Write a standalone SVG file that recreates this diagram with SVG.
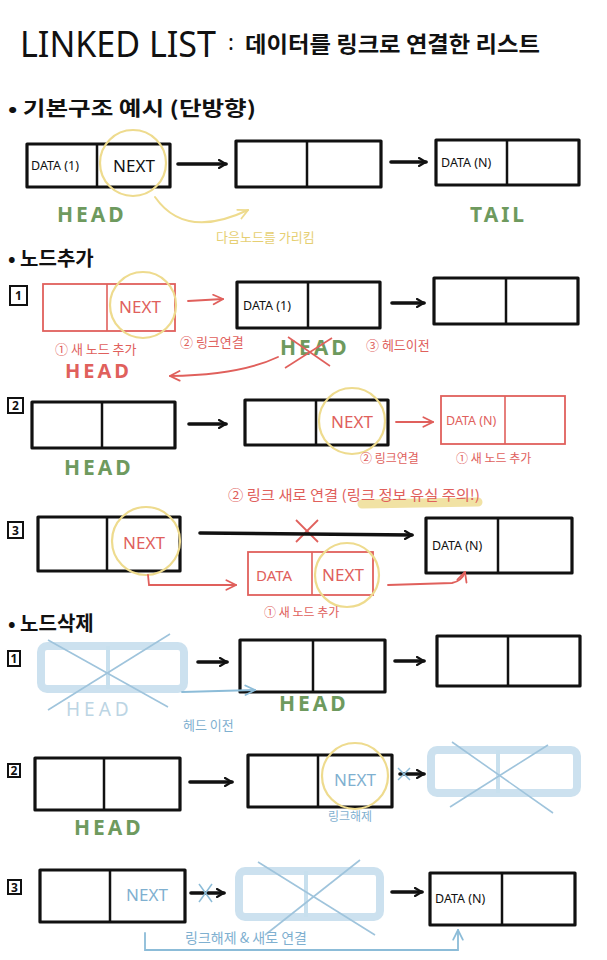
<svg xmlns="http://www.w3.org/2000/svg" width="607" height="960" viewBox="0 0 607 960">
<defs>
<style>
.t{font-family:"Noto Sans","Noto Sans CJK KR",sans-serif}
.k{font-family:"Noto Sans CJK KR","Noto Sans",sans-serif}
.box{fill:#fff;stroke:#111;stroke-width:3.2;stroke-linejoin:round}
.div{stroke:#111;stroke-width:2.5}
.rbox{fill:#fff;stroke:#e0605c;stroke-width:1.8}
.rdiv{stroke:#e0605c;stroke-width:1.6}
.fbox{fill:#fff;stroke:#bcd8ea;stroke-width:8;opacity:.75}
.fdiv{stroke:#c8e0ee;stroke-width:4}
.fx{stroke:#9fc4dc;stroke-width:1.6}
.circ{fill:none;stroke:#eedb8e;stroke-width:2.2}
.arr{fill:none;stroke:#111;stroke-width:3.6;stroke-linecap:round;marker-end:url(#mb)}
.rarr{fill:none;stroke:#e0605c;stroke-width:1.8;stroke-linecap:round;marker-end:url(#mr)}
.barr{fill:none;stroke:#8cbcd8;stroke-width:1.8;stroke-linecap:round;marker-end:url(#mbl)}
.yarr{fill:none;stroke:#eedb8e;stroke-width:2;stroke-linecap:round;marker-end:url(#my)}
.green{fill:#6e9a5e;font-weight:700;font-size:21px;letter-spacing:3px}
.red{fill:#e0605c}
.blue{fill:#7fb0d0}
.data{fill:#111;font-size:12.5px}
.next{font-size:17px}
.lbl{fill:#fff;stroke:#111;stroke-width:2}
.num{font-size:12px;font-weight:700;fill:#111;text-anchor:middle}
.head{font-size:20px;font-weight:700}
</style>
<marker id="mb" viewBox="0 0 10 10" refX="8" refY="5" markerWidth="10" markerHeight="10" markerUnits="userSpaceOnUse" orient="auto"><path d="M1,1 L8,5 L1,9" fill="none" stroke="#111" stroke-width="2.2" stroke-linecap="round"/></marker>
<marker id="mr" viewBox="0 0 10 10" refX="9" refY="5" markerWidth="12" markerHeight="12" markerUnits="userSpaceOnUse" orient="auto"><path d="M1,1 L9,5 L1,9" fill="none" stroke="#e0605c" stroke-width="1.5" stroke-linecap="round"/></marker>
<marker id="mbl" viewBox="0 0 10 10" refX="9" refY="5" markerWidth="12" markerHeight="12" markerUnits="userSpaceOnUse" orient="auto"><path d="M1,1 L9,5 L1,9" fill="none" stroke="#8cbcd8" stroke-width="1.5" stroke-linecap="round"/></marker>
<marker id="my" viewBox="0 0 10 10" refX="9" refY="5" markerWidth="12" markerHeight="12" markerUnits="userSpaceOnUse" orient="auto"><path d="M1,1 L9,5 L1,9" fill="none" stroke="#eedb8e" stroke-width="1.5" stroke-linecap="round"/></marker>
</defs>
<rect width="607" height="960" fill="#fff"/>

<!-- Title -->
<g id="title">
<text class="t" x="20" y="57" font-size="36" textLength="196" lengthAdjust="spacingAndGlyphs" fill="#111">LINKED LIST</text>
<text class="t" x="228" y="50" font-size="22" fill="#111">:</text>
<text class="k" x="245" y="52" font-size="22" font-weight="700" textLength="295" lengthAdjust="spacingAndGlyphs" fill="#111">데이터를 링크로 연결한 리스트</text>
</g>

<g id="heading-basic"><text class="k" x="8" y="116" font-size="20" font-weight="700" textLength="248" lengthAdjust="spacingAndGlyphs" fill="#111">• 기본구조 예시 (단방향)</text></g>

<!-- Section 1 -->
<g id="s1-node1">
<rect class="box" x="27" y="144" width="143" height="43"/><line class="div" x1="97" y1="144" x2="97" y2="187"/>
<text class="t data" x="31" y="170">DATA (1)</text>
<text class="t next" x="134" y="172" text-anchor="middle" fill="#111">NEXT</text>
<circle class="circ" cx="133" cy="163" r="33"/>
</g>
<g id="s1-node2"><rect class="box" x="236" y="141" width="145" height="46"/><line class="div" x1="307" y1="141" x2="307" y2="187"/></g>
<g id="s1-node3"><rect class="box" x="436" y="140" width="143" height="45"/><line class="div" x1="507" y1="140" x2="507" y2="185"/>
<text class="t data" x="441" y="167">DATA (N)</text></g>
<g id="s1-labels">
<text class="t green" x="57" y="222">HEAD</text>
<text class="t green" x="470" y="222">TAIL</text>
<text class="k" x="216" y="242" font-size="13" fill="#e6cf72">다음노드를 가리킴</text>
</g>

<!-- Section 2 -->
<g id="heading-add"><text class="k" x="8" y="266" font-size="20" font-weight="700" fill="#111">• 노드추가</text></g>

<g id="a1-label"><rect class="lbl" x="10" y="286" width="17" height="19"/><text class="t num" x="18.5" y="300">1</text></g>
<g id="a1-new"><rect class="rbox" x="43" y="284" width="132" height="47"/><line class="rdiv" x1="107" y1="284" x2="107" y2="331"/>
<text class="t next red" x="140" y="313" text-anchor="middle">NEXT</text>
<circle class="circ" cx="143" cy="305" r="33"/></g>
<g id="a1-node2"><rect class="box" x="237" y="282" width="143" height="46"/><line class="div" x1="308" y1="282" x2="308" y2="328"/>
<text class="t data" x="243" y="310">DATA (1)</text></g>
<g id="a1-node3"><rect class="box" x="434" y="278" width="144" height="46"/><line class="div" x1="506" y1="278" x2="506" y2="324"/></g>
<g id="a1-labels">
<text class="k red" x="55" y="354" font-size="13">① 새 노드 추가</text>
<text class="t head red" x="65" y="378" letter-spacing="3">HEAD</text>
<text class="k red" x="180" y="347" font-size="13">② 링크연결</text>
<text class="t green" x="280" y="355">HEAD</text>
<line x1="288" y1="337" x2="330" y2="366" stroke="#e0605c" stroke-width="1.6"/>
<line x1="285" y1="368" x2="332" y2="338" stroke="#e0605c" stroke-width="1.6"/>
<text class="k red" x="366" y="350" font-size="13">③ 헤드이전</text>
</g>

<g id="a2-label"><rect class="lbl" x="8" y="398" width="15" height="15"/><text class="t num" x="15.5" y="410">2</text></g>
<g id="a2-node1"><rect class="box" x="32" y="402" width="143" height="46"/><line class="div" x1="102" y1="402" x2="102" y2="448"/></g>
<g id="a2-node2"><rect class="box" x="245" y="400" width="143" height="45"/><line class="div" x1="316" y1="400" x2="316" y2="445"/>
<text class="t next red" x="352" y="428" text-anchor="middle">NEXT</text>
<circle class="circ" cx="352" cy="421" r="33"/></g>
<g id="a2-new"><rect class="rbox" x="441" y="396" width="124" height="48"/><line class="rdiv" x1="505" y1="396" x2="505" y2="444"/>
<text class="t red" x="446" y="425" font-size="12.5">DATA (N)</text></g>
<g id="a2-labels">
<text class="t green" x="64" y="475">HEAD</text>
<text class="k red" x="360" y="463" font-size="12">② 링크연결</text>
<text class="k red" x="456" y="463" font-size="12">① 새 노드 추가</text>
</g>

<g id="a3-note">
<path d="M362,504 L478,502" stroke="#eedb8e" stroke-width="9" stroke-linecap="round" opacity=".8"/>
<text class="k red" x="228" y="500" font-size="14" textLength="252" lengthAdjust="spacingAndGlyphs">② 링크 새로 연결 (링크 정보 유실 주의!)</text>
</g>
<g id="a3-label"><rect class="lbl" x="8" y="522" width="15" height="16"/><text class="t num" x="15.5" y="535">3</text></g>
<g id="a3-node1"><rect class="box" x="38" y="517" width="142" height="54"/><line class="div" x1="107" y1="517" x2="107" y2="571"/>
<text class="t next red" x="144" y="549" text-anchor="middle">NEXT</text>
<circle class="circ" cx="146" cy="541" r="34"/></g>
<g id="a3-node2"><rect class="box" x="426" y="518" width="146" height="55"/><line class="div" x1="498" y1="518" x2="498" y2="573"/>
<text class="t data" x="432" y="550">DATA (N)</text></g>
<g id="a3-new"><rect class="rbox" x="248" y="552" width="125" height="43"/><line class="rdiv" x1="312" y1="552" x2="312" y2="595"/>
<text class="t red" x="256" y="581" font-size="15">DATA</text>
<text class="t next red" x="343" y="581" text-anchor="middle">NEXT</text>
<circle class="circ" cx="347" cy="575" r="32"/></g>
<g id="a3-labels"><text class="k red" x="264" y="617" font-size="12">① 새 노드 추가</text>
<line x1="296" y1="520" x2="318" y2="542" stroke="#e0605c" stroke-width="1.8"/>
<line x1="318" y1="520" x2="296" y2="542" stroke="#e0605c" stroke-width="1.8"/></g>

<!-- Section 3 -->
<g id="heading-del"><text class="k" x="8" y="631" font-size="20" font-weight="700" fill="#111">• 노드삭제</text></g>

<g id="d1-label"><rect class="lbl" x="8" y="651" width="12" height="15"/><text class="t num" x="14" y="663">1</text></g>
<g id="d1-old"><rect class="fbox" x="41" y="646" width="143" height="43" rx="6"/><line class="fdiv" x1="108" y1="646" x2="108" y2="689"/>
<line class="fx" x1="48" y1="640" x2="168" y2="707"/><line class="fx" x1="170" y1="634" x2="48" y2="710"/></g>
<g id="d1-node2"><rect class="box" x="240" y="640" width="145" height="52"/><line class="div" x1="313" y1="640" x2="313" y2="692"/></g>
<g id="d1-node3"><rect class="box" x="437" y="636" width="143" height="50"/><line class="div" x1="508" y1="636" x2="508" y2="686"/></g>
<g id="d1-labels">
<text class="t" x="66" y="716" font-size="19" letter-spacing="4" fill="#bcd5e4">HEAD</text>
<text class="t green" x="279" y="711">HEAD</text>
<text class="k blue" x="183" y="730" font-size="13">헤드 이전</text>
</g>

<g id="d2-label"><rect class="lbl" x="8" y="764" width="12" height="13"/><text class="t num" x="14" y="775">2</text></g>
<g id="d2-node1"><rect class="box" x="35" y="758" width="145" height="52"/><line class="div" x1="104" y1="758" x2="104" y2="810"/></g>
<g id="d2-node2"><rect class="box" x="248" y="755" width="144" height="52"/><line class="div" x1="318" y1="755" x2="318" y2="807"/>
<text class="t next blue" x="355" y="786" text-anchor="middle">NEXT</text>
<circle class="circ" cx="355" cy="776" r="33"/></g>
<g id="d2-old"><rect class="fbox" x="431" y="750" width="146" height="43" rx="6"/><line class="fdiv" x1="498" y1="750" x2="498" y2="793"/>
<line class="fx" x1="452" y1="742" x2="553" y2="813"/><line class="fx" x1="548" y1="745" x2="450" y2="807"/></g>
<g id="d2-labels">
<text class="t green" x="74" y="835">HEAD</text>
<text class="k blue" x="328" y="821" font-size="12">링크해제</text>
</g>

<g id="d3-label"><rect class="lbl" x="8" y="880" width="13" height="14"/><text class="t num" x="14.5" y="892">3</text></g>
<g id="d3-node1"><rect class="box" x="40" y="870" width="145" height="52"/><line class="div" x1="110" y1="870" x2="110" y2="922"/>
<text class="t next blue" x="147" y="901" text-anchor="middle">NEXT</text></g>
<g id="d3-old"><rect class="fbox" x="239" y="871" width="141" height="46" rx="6"/><line class="fdiv" x1="306" y1="871" x2="306" y2="917"/>
<line class="fx" x1="258" y1="862" x2="375" y2="935"/><line class="fx" x1="360" y1="860" x2="265" y2="935"/></g>
<g id="d3-node3"><rect class="box" x="430" y="873" width="145" height="52"/><line class="div" x1="502" y1="873" x2="502" y2="925"/>
<text class="t data" x="435" y="903">DATA (N)</text></g>
<g id="d3-labels"><text class="k blue" x="185" y="943" font-size="14">링크해제 &amp; 새로 연결</text></g>

<!-- Connectors -->
<g id="connectors">
<path class="arr" d="M178,164 L226,164"/>
<path class="arr" d="M391,162 L426,162"/>
<path class="yarr" d="M155,197 Q185,240 248,210"/>
<path class="rarr" d="M188,301 L223,299"/>
<path class="arr" d="M392,303 L424,303"/>
<path class="rarr" d="M278,357 Q240,375 170,376"/>
<path class="arr" d="M189,424 L226,424"/>
<path class="rarr" d="M396,422 L433,422"/>
<path class="arr" d="M200,533 L412,535"/>
<path class="rarr" d="M148,575 L149,585 L236,585"/>
<path class="rarr" d="M388,585 L452,583 Q462,581 465,572"/>
<path class="arr" d="M198,662 L227,662"/>
<path class="arr" d="M395,661 L424,661"/>
<path class="barr" d="M182,692 L255,690"/>
<path class="arr" d="M400,774 L424,774"/>
<path class="arr" d="M190,782 L232,782"/>
<line x1="398" y1="768" x2="410" y2="780" stroke="#8cbcd8" stroke-width="1.5"/>
<line x1="410" y1="768" x2="398" y2="780" stroke="#8cbcd8" stroke-width="1.5"/>
<path class="arr" d="M191,893 L224,893"/>
<line x1="199" y1="884" x2="212" y2="902" stroke="#8cbcd8" stroke-width="1.5"/>
<line x1="212" y1="884" x2="199" y2="902" stroke="#8cbcd8" stroke-width="1.5"/>
<path class="arr" d="M392,892 L422,892"/>
<path class="barr" d="M145,933 L145,950 L458,950 L458,930"/>
</g>
</svg>
